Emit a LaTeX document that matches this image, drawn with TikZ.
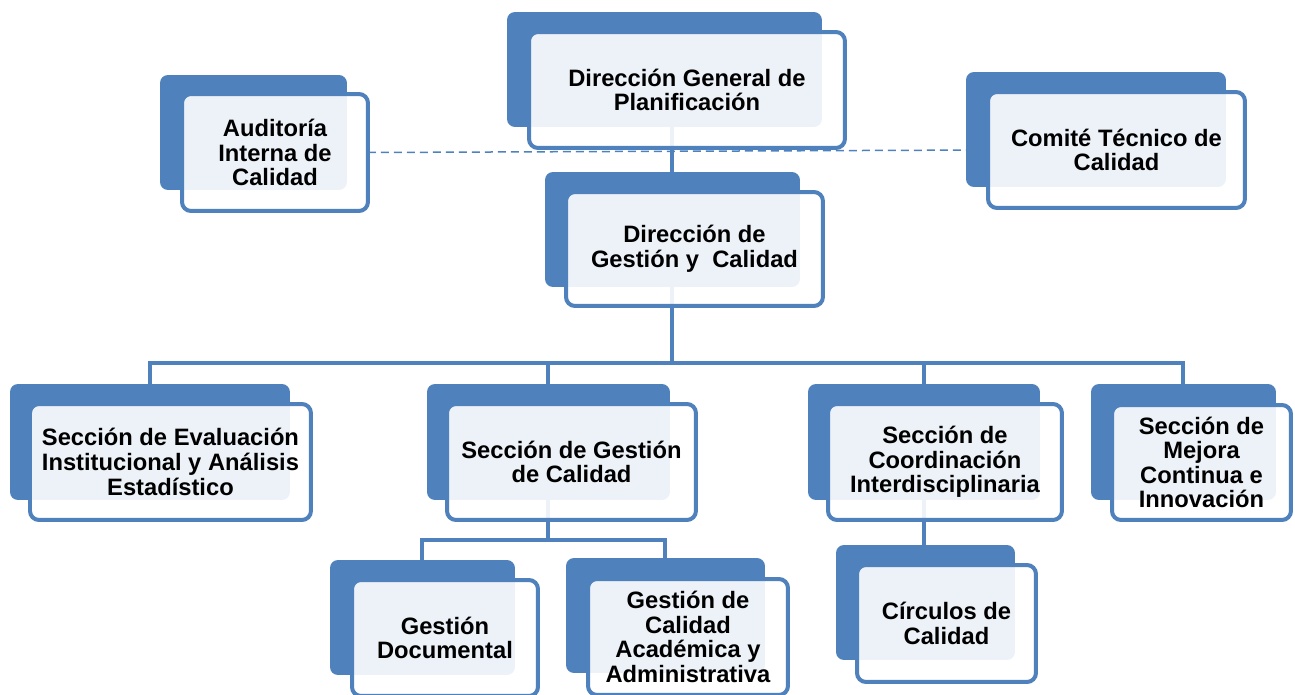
\documentclass[tikz,border=0pt]{standalone}
\usepackage{fontspec}
\setmainfont{Liberation Sans}
\usetikzlibrary{backgrounds}
\definecolor{orgblue}{RGB}{79,129,189}

\begin{document}
\begin{tikzpicture}[x=0.02cm, y=-0.02cm,
    backbox/.style={fill=orgblue, rounded corners=0.16cm, anchor=north west, inner sep=0pt, outer sep=0pt},
    frontbox/.style={draw=orgblue, line width=0.08cm, fill=white, fill opacity=0.9, text opacity=1,
        rounded corners=0.18cm, anchor=north west, inner sep=0pt, outer sep=0pt, align=center,
        font=\fontsize{13.5}{14}\selectfont\bfseries},
    link/.style={draw=orgblue, line width=0.08cm},
    dashlink/.style={draw=orgblue, line width=0.03cm, dash pattern=on 0.16cm off 0.1cm}]
        \useasboundingbox (0,0) rectangle (1295,694);

        % top row
        \node[backbox, minimum width=3.74cm, minimum height=2.30cm] (audb) at (160,75) {};
        \node[frontbox, minimum width=3.72cm, minimum height=2.34cm] (aud) at (182,94) {Auditoría\\Interna de\\Calidad};

        \node[backbox, minimum width=6.30cm, minimum height=2.30cm] (dgpb) at (507,12) {};
        \node[frontbox, minimum width=6.32cm, minimum height=2.32cm] (dgp) at (529,32) {Dirección General de\\Planificación};

        \node[backbox, minimum width=5.20cm, minimum height=2.30cm] (ctcb) at (966,72) {};
        \node[frontbox, minimum width=5.14cm, minimum height=2.32cm] (ctc) at (988,92) {Comité Técnico de\\Calidad};

        \node[backbox, minimum width=5.10cm, minimum height=2.30cm] (dgcb) at (545,172) {};
        \node[frontbox, minimum width=5.14cm, minimum height=2.28cm] (dgc) at (566,192) {Dirección de\\Gestión y~~Calidad};

        % sections
        \node[backbox, minimum width=5.60cm, minimum height=2.32cm] (seib) at (10,384) {};
        \node[frontbox, minimum width=5.62cm, minimum height=2.32cm] (sei) at (30,404) {Sección de Evaluación\\Institucional y Análisis\\Estadístico};

        \node[backbox, minimum width=4.86cm, minimum height=2.32cm] (sgcb) at (427,384) {};
        \node[frontbox, minimum width=4.98cm, minimum height=2.32cm] (sgc) at (447,404) {Sección de Gestión\\de Calidad};

        \node[backbox, minimum width=4.64cm, minimum height=2.32cm] (scib) at (808,384) {};
        \node[frontbox, minimum width=4.68cm, minimum height=2.32cm] (sci) at (828,404) {Sección de\\Coordinación\\Interdisciplinaria};

        \node[backbox, minimum width=3.70cm, minimum height=2.32cm] (smcb) at (1091,384) {};
        \node[frontbox, minimum width=3.58cm, minimum height=2.30cm] (smc) at (1112,405) {Sección de\\Mejora\\Continua e\\Innovación};

        % bottom row
        \node[backbox, minimum width=3.70cm, minimum height=2.30cm] (gdob) at (330,560) {};
        \node[frontbox, minimum width=3.72cm, minimum height=2.32cm] (gdo) at (352,580) {Gestión\\Documental};

        \node[backbox, minimum width=3.98cm, minimum height=2.30cm] (gcab) at (566,558) {};
        \node[frontbox, minimum width=4.00cm, minimum height=2.32cm] (gca) at (588,579) {Gestión de\\Calidad\\Académica y\\Administrativa};

        \node[backbox, minimum width=3.58cm, minimum height=2.30cm] (cirb) at (836,545) {};
        \node[frontbox, minimum width=3.58cm, minimum height=2.34cm] (cir) at (857,565) {Círculos de\\Calidad};

        \coordinate (bar) at (0,363);
        \coordinate (subbar) at (0,540);

        \begin{pgfonlayer}{background}
            \draw[dashlink] (aud.east) -- (ctc.west);
            \draw[link] (dgcb.north) -- (dgcb.north |- dgpb.south);
            \draw[link] (dgcb.south) -- (dgcb.south |- bar);
            \draw[link] (seib.north) -- (seib.north |- bar) -- (smcb.north |- bar) -- (smcb.north);
            \draw[link] (sgcb.north) -- (sgcb.north |- bar);
            \draw[link] (scib.north) -- (scib.north |- bar);
            \draw[link] (sgcb.south) -- (sgcb.south |- subbar);
            \draw[link] (gdob.north) -- (gdob.north |- subbar) -- (gcab.north |- subbar) -- (gcab.north);
            \draw[link] (scib.south) -- (scib.south |- cirb.north);
        \end{pgfonlayer}
    \end{tikzpicture}
\end{document}
